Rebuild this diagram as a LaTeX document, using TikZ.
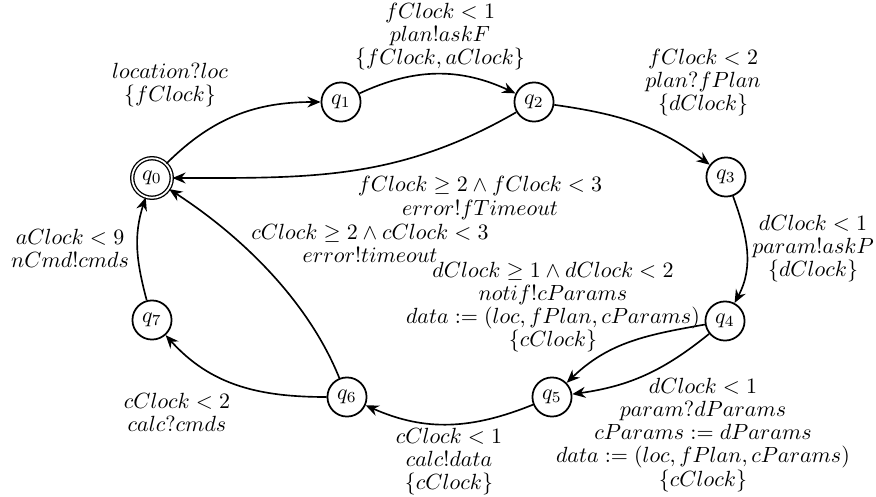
\documentclass[tikz,border=0pt]{standalone}
\usetikzlibrary{arrows.meta}
\begin{document}
\begin{tikzpicture}[x=0.455pt,y=0.455pt,
  st/.style={circle,draw,line width=0.8pt,minimum size=17.8pt,inner sep=0pt},
  acc/.style={circle,draw,double,line width=0.6pt,double distance=0.8pt,minimum size=18pt,inner sep=0pt},
  tr/.style={line width=0.75pt,-{Stealth[length=6pt,width=5pt,inset=2pt]}},
  lbl/.style={align=center,font=\fontsize{10}{10.5}\selectfont,inner sep=0pt}]
\useasboundingbox (0,0) rectangle (876,496);
% states
\node[acc] (q0) at (152,318) {$q_0$};
\node[st] (q1) at (341,394) {$q_1$};
\node[st] (q2) at (534,394) {$q_2$};
\node[st] (q3) at (726,319) {$q_3$};
\node[st] (q4) at (725,175) {$q_4$};
\node[st] (q5) at (552,99) {$q_5$};
\node[st] (q6) at (347,99) {$q_6$};
\node[st] (q7) at (152,176) {$q_7$};
% transitions
\draw[tr] (q0) to[out=45,in=180] (q1);
\draw[tr] (q1) to[out=25,in=155] (q2);
\draw[tr] (q2) to[out=-8,in=143] (q3);
\draw[tr] (q3) to[out=-70,in=62] (q4);
\draw[tr] (q4) to[out=190,in=44] (q5);
\draw[tr] (q4) to[out=219,in=8] (q5);
\draw[tr] (q5) to[out=202,in=-24] (q6);
\draw[tr] (q6) to[out=180,in=-48] (q7);
\draw[tr] (q7) to[out=105,in=-108] (q0);
\draw[tr] (q6) to[out=112,in=-33,looseness=0.85] (q0);
\draw[tr] (q2) to[out=210,in=0] (q0);
% labels
\node[lbl] (l01) at (170,411) {$location?loc$\\$\{fClock\}$};
\node[lbl] (l12) at (440,459) {$fClock<1$\\$plan!askF$\\$\{fClock,aClock\}$};
\node[lbl] (l23) at (703,413) {$fClock<2$\\$plan?fPlan$\\$\{dClock\}$};
\node[lbl] (l34) at (813,247) {$dClock<1$\\$param!askP$\\$\{dClock\}$};
\node[lbl] (l45a) at (553,189) {$dClock\geq 1\wedge dClock<2$\\$notif!cParams$\\$data:=(loc,fPlan,cParams)$\\$\{cClock\}$};
\node[lbl] (l45b) at (703,61) {$dClock<1$\\$param?dParams$\\$cParams:=dParams$\\$data:=(loc,fPlan,cParams)$\\$\{cClock\}$};
\node[lbl] (l56) at (449,34) {$cClock<1$\\$calc!data$\\$\{cClock\}$};
\node[lbl] (l67) at (177,84) {$cClock<2$\\$calc?cmds$};
\node[lbl] (l70) at (70,248) {$aClock<9$\\$nCmd!cmds$};
\node[lbl] (l60) at (370,253) {$cClock\geq 2\wedge cClock<3$\\$error!timeout$};
\node[lbl] (l20) at (480,298) {$fClock\geq 2\wedge fClock<3$\\$error!fTimeout$};
\end{tikzpicture}
\end{document}
